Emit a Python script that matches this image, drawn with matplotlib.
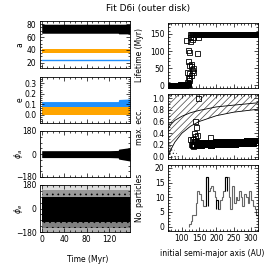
import numpy as np
import matplotlib.pyplot as plt

plt.rcParams['font.family'] = 'DejaVu Sans'
plt.rcParams['font.size'] = 5.5
plt.rcParams['axes.linewidth'] = 0.6
plt.rcParams['hatch.linewidth'] = 0.5
for k in ('xtick', 'ytick'):
    plt.rcParams[k + '.direction'] = 'in'
    plt.rcParams[k + '.major.size'] = 3
    plt.rcParams[k + '.minor.size'] = 1.5
    plt.rcParams[k + '.major.width'] = 0.5
    plt.rcParams[k + '.minor.width'] = 0.5
    plt.rcParams[k + '.major.pad'] = 2.5
    plt.rcParams[k + '.minor.visible'] = True
plt.rcParams['xtick.top'] = True
plt.rcParams['ytick.right'] = True

# ---- left column: time evolution (band envelopes) ----
t = [0, 20, 40, 60, 80, 100, 120, 136, 137, 157]
a_disk_lo = [66, 66, 66, 66, 66, 66, 66, 66, 65, 65]
a_disk_hi = [80, 80, 80, 80, 80, 80, 80, 80, 80, 80]
a_orange_lo = [36, 36, 36, 36, 36, 36, 36, 36, 36, 36]
a_orange_hi = [42, 42, 42, 42, 42, 42, 42, 42, 42, 42]
a_blue = [24, 24, 24, 24, 24, 24, 24, 24, 24, 24]

e_blue_lo = [0.07, 0.07, 0.07, 0.07, 0.07, 0.07, 0.07, 0.07, 0.07, 0.07]
e_blue_hi = [0.125, 0.125, 0.125, 0.125, 0.125, 0.125, 0.125, 0.125, 0.145, 0.15]
e_orange_lo = [0.0, 0.0, 0.0, 0.0, 0.0, 0.0, 0.0, 0.0, 0.0, 0.0]
e_orange_hi = [0.075, 0.075, 0.075, 0.075, 0.075, 0.075, 0.075, 0.075, 0.075, 0.075]

phia_lo = [-28, -28, -28, -28, -28, -28, -28, -30, -40, -55]
phia_hi = [26, 26, 26, 26, 26, 26, 26, 28, 38, 50]

# phi_e: solid core, dense speckle, sparse speckle (upper / lower)
phie_core_hi = [85, 85, 85, 85, 85, 85, 85, 85, 85, 85]
phie_core_lo = [-100, -100, -100, -100, -100, -100, -100, -100, -100, -100]
phie_dense_hi = [140, 140, 140, 140, 140, 140, 140, 140, 140, 140]
phie_dense_lo = [-150, -150, -150, -150, -150, -150, -150, -150, -150, -150]

# ---- right column: particles vs initial semi-major axis (AU) ----
lost_edges = [60, 65, 70, 75, 80, 85, 90, 95, 100, 105, 110, 115, 118]
lost_counts = [7, 6, 7, 6, 7, 7, 6, 7, 6, 7, 6, 3]
lost_life = [1, 0, 2, 1, 0, 2, 1, 3, 0, 2, 3, 4]

mid_a = [113, 117, 120, 143, 118, 122, 133, 128, 115, 120, 125, 118,
         122, 116, 127, 131, 124, 128, 132, 147, 123, 119, 121, 126]
mid_life = [133, 104, 98, 94, 72, 60, 50, 45, 40, 35, 30, 25,
            20, 10, 62, 40, 140, 135, 140, 140, 130, 8, 15, 55]
ecc_mid_a = [148, 138, 141, 144, 131, 134, 140, 133, 181, 137, 129, 135]
ecc_mid_e = [1.0, 0.61, 0.5, 0.37, 0.31, 0.27, 0.26, 0.19, 0.33, 0.35, 0.30, 0.40]

# survivors: histogram of initial a, lifetime = full run, max. ecc. per bin
hist_edges = np.arange(120, 325, 5)
hist_counts = [1, 2, 4, 4, 8, 12, 11, 9, 7, 7, 17, 12, 13, 14, 12, 10, 9, 6, 9, 10,
               12, 17, 17, 10, 6, 14, 8, 10, 9, 12, 10, 7, 11, 10, 8, 12, 9, 7, 6, 4]
bin_ecc = [0.30, 0.22, 0.20, 0.26, 0.21, 0.25, 0.20, 0.24, 0.21, 0.25, 0.21, 0.24,
           0.20, 0.25, 0.22, 0.26, 0.21, 0.25, 0.22, 0.26, 0.22, 0.25, 0.21, 0.26,
           0.23, 0.27, 0.22, 0.26, 0.23, 0.27, 0.23, 0.27, 0.24, 0.28, 0.23, 0.27,
           0.24, 0.28, 0.25, 0.28]
full_run = 150
black_bins = [10, 16, 21, 39]

# orbit-crossing boundaries in the max. ecc. panel
cross_a = [60, 70, 80, 100, 125, 150, 200, 250, 320]
cross_lo = [0.0, 0.14, 0.25, 0.40, 0.52, 0.60, 0.70, 0.76, 0.81]
cross_hi = [0.48, 0.56, 0.62, 0.69, 0.75, 0.79, 0.85, 0.88, 0.92]
stip_a = [60, 70, 80, 92]
stip_e = [0.32, 0.20, 0.10, 0.0]


def spread(edges, counts, vals):
    # place each bin's particles across the bin, all sharing the bin value
    xs, ys = [], []
    for lo, hi, n, v in zip(edges[:-1], edges[1:], counts, vals):
        xs += list(lo + (hi - lo) * (np.arange(n) + 0.5) / n)
        ys += [v] * n
    return xs, ys


W, H = 275, 265
fig = plt.figure(figsize=(W / 100, H / 100), dpi=100)


def box(x0, y0, x1, y1):
    return fig.add_axes([x0 / W, 1 - y1 / H, (x1 - x0) / W, (y1 - y0) / H])


t_lim = (-3, 157)
ax1 = box(40, 21, 130, 68)
ax1.fill_between(t, a_disk_lo, a_disk_hi, color='black', lw=0)
ax1.fill_between(t, a_orange_lo, a_orange_hi, color='#ffa500', lw=0)
ax1.plot(t, a_blue, color='#1e90ff', lw=1)
ax1.set_ylim(12, 85)
ax1.set_yticks([20, 40, 60, 80])
ax1.set_ylabel('a')

ax2 = box(40, 77, 130, 123)
ax2.fill_between(t, e_blue_lo, e_blue_hi, color='#1e90ff', lw=0)
ax2.fill_between(t, e_orange_lo, e_orange_hi, color='#ffa500', lw=0)
ax2.set_ylim(-0.08, 0.36)
ax2.set_yticks([0.0, 0.1, 0.2, 0.3])
ax2.set_ylabel('e')

ax3 = box(40, 131, 130, 177)
ax3.fill_between(t, phia_lo, phia_hi, color='black', lw=0)
ax3.set_ylim(-180, 180)
ax3.set_yticks([-180, 0, 180])
ax3.set_ylabel(r'$\phi_a$')

ax4 = box(40, 185, 130, 232)
ax4.fill_between(t, phie_dense_hi, 180, facecolor='#dcdcdc', edgecolor='black',
                 hatch='..', lw=0)
ax4.fill_between(t, -180, phie_dense_lo, facecolor='#b0b0b0', edgecolor='black',
                 hatch='..', lw=0)
ax4.fill_between(t, phie_core_hi, phie_dense_hi, facecolor='#999999',
                 edgecolor='black', hatch='...', lw=0)
ax4.fill_between(t, phie_dense_lo, phie_core_lo, facecolor='#808080',
                 edgecolor='black', hatch='...', lw=0)
ax4.fill_between(t, phie_core_lo, phie_core_hi, color='black', lw=0)
ax4.set_ylim(-180, 180)
ax4.set_yticks([-180, 0, 180])
ax4.set_ylabel(r'$\phi_e$')
ax4.set_xlabel('Time (Myr)')

for ax in (ax1, ax2, ax3, ax4):
    ax.set_xlim(*t_lim)
    ax.set_xticks([0, 40, 80, 120])
    ax.yaxis.set_label_coords(-0.17, 0.5)
    if ax is not ax4:
        ax.tick_params(labelbottom=False)
ax4.xaxis.set_label_coords(0.53, -0.5)

a_lim = (60, 320)
mk = dict(marker='s', ls='none', mfc='none', mec='black', ms=3.6, mew=0.6)

lost_a, lost_t = spread(lost_edges, lost_counts, lost_life)
surv_a, surv_t = spread(hist_edges, hist_counts, [full_run] * len(hist_counts))
_, surv_e = spread(hist_edges, hist_counts, bin_ecc)

r1 = box(168, 23, 258, 88)
r1.plot(lost_a, lost_t, **mk)
r1.plot(surv_a, surv_t, **mk)
r1.plot(mid_a, mid_life, **mk)
r1.set_ylim(-8, 182)
r1.set_yticks([0, 50, 100, 150])
r1.set_ylabel('Lifetime (Myr)')

r2 = box(168, 94, 258, 159)
r2.fill_between(cross_a, cross_lo, 1.07, facecolor='none', edgecolor='#444444',
                hatch='/////', lw=0)
r2.fill_between(stip_a, -0.04, stip_e, facecolor='none', edgecolor='#333333',
                hatch='.....', lw=0)
r2.plot(cross_a, cross_lo, color='black', lw=0.6)
r2.plot(cross_a, cross_hi, color='black', lw=0.6)
r2.plot(surv_a, surv_e, **mk)
r2.plot(ecc_mid_a, ecc_mid_e, **mk)
r2.set_ylim(-0.04, 1.07)
r2.set_yticks([0.0, 0.2, 0.4, 0.6, 0.8, 1.0])
r2.set_ylabel('max. ecc.')

r3 = box(168, 165, 258, 231)
r3.stairs(hist_counts, hist_edges, color='#666666', lw=0.8)
for i in black_bins:
    base = min(hist_counts[i - 1], hist_counts[min(i + 1, len(hist_counts) - 1)])
    r3.stairs([hist_counts[i]], hist_edges[i:i + 2], baseline=base,
              color='black', lw=0.8)
r3.set_ylim(-1.5, 21)
r3.set_yticks([0, 5, 10, 15, 20])
r3.set_ylabel('No. particles')
r3.set_xlabel('initial semi-major axis (AU)')
r3.xaxis.set_label_coords(0.49, -0.28)

for ax in (r1, r2, r3):
    ax.set_xlim(*a_lim)
    ax.set_xticks([100, 150, 200, 250, 300])
    ax.yaxis.set_label_coords(-0.27, 0.5)
    if ax is not r3:
        ax.tick_params(labelbottom=False)

fig.text(148 / W, 1 - 9 / H, 'Fit D6i (outer disk)', ha='center', va='center',
         fontsize=6.5)

fig.savefig('out.png', dpi=100)
